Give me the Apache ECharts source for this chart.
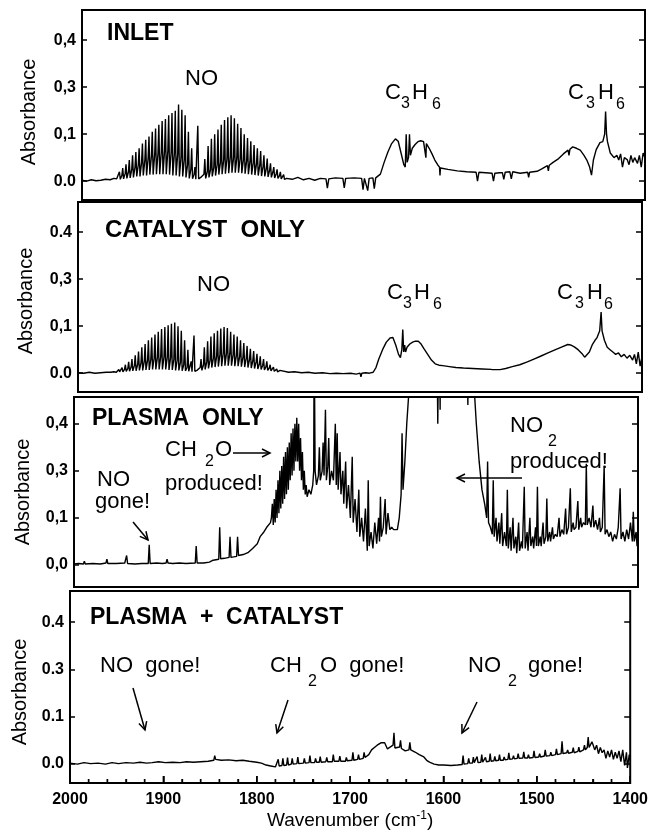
<!DOCTYPE html>
<html><head><meta charset="utf-8">
<script src="https://cdn.jsdelivr.net/npm/echarts@6/dist/echarts.min.js"></script>
<style>html,body{margin:0;padding:0;background:#fff}#c{width:651px;height:837px}</style>
</head><body><div id="c"></div><script>
// ---------------- DATA (wavenumber cm^-1, absorbance in tick-position units) ----------------
const panelTitles = ['INLET', 'CATALYST  ONLY', 'PLASMA  ONLY', 'PLASMA  +  CATALYST'];
const yTickPositions = [0, 0.1, 0.2, 0.3];
const p1YLabels = ['0.0', '0,1', '0,3', '0,4'];
const p2YLabels = ['0.0', '0,1', '0,3', '0.4'];
const p3YLabels = ['0,0', '0,1', '0,3', '0,4'];
const p4YLabels = ['0.0', '0.1', '0.3', '0.4'];

const inletSpectrum = [
[2000,0.002],[1995,0.0],[1990,0.003],[1985,0.001],[1980,0.002],[1975,0.004],[1970,0.003],[1966,0.006],[1963,0.005],
[1961,0.008],[1960.1,0.02],[1959.2,0.004],[1957.5,0.012],[1956.6,0.028],[1955.7,0.005],
[1954,0.016],[1953.1,0.036],[1952.2,0.006],[1950.5,0.02],[1949.6,0.045],[1948.7,0.007],
[1947,0.025],[1946.1,0.055],[1945.2,0.008],[1943.5,0.03],[1942.6,0.062],[1941.7,0.01],
[1940,0.035],[1939.1,0.07],[1938.2,0.01],[1936.5,0.04],[1935.6,0.08],[1934.7,0.012],
[1933,0.045],[1932.1,0.088],[1931.2,0.012],[1929.5,0.05],[1928.6,0.095],[1927.7,0.014],
[1926,0.055],[1925.1,0.105],[1924.2,0.014],[1922.5,0.058],[1921.6,0.112],[1920.7,0.015],
[1919,0.06],[1918.1,0.12],[1917.2,0.015],[1915.5,0.062],[1914.6,0.128],[1913.7,0.015],
[1912,0.065],[1911.1,0.132],[1910.2,0.015],[1908.5,0.065],[1907.6,0.14],[1906.7,0.014],
[1905,0.062],[1904.1,0.145],[1903.2,0.012],[1901.5,0.06],[1900.6,0.15],[1899.7,0.012],
[1898,0.058],[1897.1,0.163],[1896.2,0.01],[1894.5,0.05],[1893.6,0.152],[1892.7,0.01],
[1891,0.045],[1890.1,0.14],[1889.2,0.008],[1887.5,0.035],[1886.6,0.105],[1885.7,0.006],
[1884,0.025],[1883.1,0.07],[1882.2,0.005],[1880.5,0.015],[1879.6,0.03],[1878.7,0.004],
[1877.5,0.006],[1876.6,0.118],[1875.7,0.005],[1873.5,0.008],
[1870,0.015],[1869.1,0.047],[1868.2,0.006],[1866.5,0.02],[1865.6,0.075],[1864.7,0.008],
[1863,0.025],[1862.1,0.09],[1861.2,0.01],[1859.5,0.03],[1858.6,0.1],[1857.7,0.012],
[1856,0.035],[1855.1,0.11],[1854.2,0.014],[1852.5,0.04],[1851.6,0.12],[1850.7,0.015],
[1849,0.045],[1848.1,0.13],[1847.2,0.016],[1845.5,0.048],[1844.6,0.136],[1843.7,0.017],
[1842,0.05],[1841.1,0.14],[1840.2,0.018],[1838.5,0.05],[1837.6,0.134],[1836.7,0.018],
[1835,0.05],[1834.1,0.122],[1833.2,0.018],[1831.5,0.048],[1830.6,0.113],[1829.7,0.017],
[1828,0.046],[1827.1,0.1],[1826.2,0.016],[1824.5,0.044],[1823.6,0.092],[1822.7,0.015],
[1821,0.042],[1820.1,0.085],[1819.2,0.014],[1817.5,0.04],[1816.6,0.077],[1815.7,0.013],
[1814,0.038],[1813.1,0.07],[1812.2,0.012],[1810.5,0.035],[1809.6,0.064],[1808.7,0.011],
[1807,0.032],[1806.1,0.055],[1805.2,0.01],[1803.5,0.028],[1802.6,0.048],[1801.7,0.009],
[1800,0.024],[1799.1,0.038],[1798.2,0.008],[1796.5,0.02],[1795.6,0.03],[1794.7,0.007],
[1793,0.016],[1792.1,0.025],[1791.2,0.006],[1789.5,0.012],[1788.6,0.02],[1787.7,0.005],
[1786,0.008],[1785.1,0.014],[1784.2,0.004],
[1782,0.006],[1776,0.004],[1770,0.008],[1764,0.003],[1758,0.006],[1752,0.002],[1746,0.006],
[1740,0.005],[1738.5,-0.015],[1737,0.005],[1730,0.007],[1722,0.006],[1720.5,-0.014],[1719,0.006],
[1710,0.007],[1702,0.006],[1700.5,-0.018],[1699,0.006],[1697,0.006],[1695.5,-0.02],[1694,0.006],
[1690,0.007],[1688.5,-0.016],[1687,0.007],[1685,0.008],
[1682,0.015],[1678,0.04],[1674,0.062],[1670,0.08],[1666,0.09],[1663,0.085],[1660,0.06],[1657,0.035],
[1655.5,0.03],[1654.5,0.1],[1653.5,0.04],[1652,0.05],[1651,0.1],[1650,0.055],[1648,0.07],[1645,0.078],
[1642,0.084],[1639,0.086],[1636,0.084],[1634,0.08],[1633.5,0.05],[1633,0.08],[1630,0.07],[1627,0.058],
[1624,0.045],[1621,0.035],[1619,0.03],[1618.5,0.012],[1618,0.028],
[1610,0.025],[1600,0.022],[1590,0.02],[1580,0.019],[1578.5,0.0],[1577,0.019],[1570,0.018],[1563,0.017],
[1561.5,0.0],[1560,0.017],[1555,0.018],[1552,0.018],[1550.5,0.004],[1549,0.019],[1544,0.02],
[1542.5,0.005],[1541,0.02],[1533,0.017],[1525,0.019],[1524,0.008],[1523,0.019],[1515,0.021],
[1510,0.026],[1504,0.033],[1503,0.022],[1502,0.034],[1498,0.04],[1492,0.048],[1487,0.058],
[1482,0.066],[1481,0.055],[1480,0.068],[1477,0.073],[1473,0.07],[1469,0.066],[1465,0.055],
[1462,0.045],[1459,0.03],[1457,0.013],[1455,0.045],[1452,0.067],[1448,0.082],[1445,0.084],
[1443,0.1],[1442,0.148],[1441,0.1],[1440,0.084],[1437,0.06],[1435,0.064],[1433,0.05],[1430,0.055],
[1428,0.045],[1426,0.058],[1424,0.03],[1422,0.05],[1419,0.046],[1417,0.035],[1415,0.055],
[1413,0.04],[1411,0.05],[1408,0.038],[1406,0.055],[1404,0.03],[1402,0.06],[1400,0.05]
];

const catalystSpectrum = [
[2000,0.001],[1994,0.0],[1988,0.002],[1982,0.0],[1976,0.001],[1970,0.002],[1965,0.002],[1962,0.003],
[1961,0.003],[1960.1,0.005],[1959.2,0.002],[1957.5,0.004],[1956.6,0.008],[1955.7,0.003],
[1954,0.006],[1953.1,0.012],[1952.2,0.003],[1950.5,0.008],[1949.6,0.018],[1948.7,0.004],
[1947,0.01],[1946.1,0.024],[1945.2,0.004],[1943.5,0.013],[1942.6,0.03],[1941.7,0.005],
[1940,0.016],[1939.1,0.038],[1938.2,0.005],[1936.5,0.019],[1935.6,0.046],[1934.7,0.006],
[1933,0.022],[1932.1,0.055],[1931.2,0.006],[1929.5,0.025],[1928.6,0.062],[1927.7,0.007],
[1926,0.028],[1925.1,0.07],[1924.2,0.007],[1922.5,0.03],[1921.6,0.076],[1920.7,0.008],
[1919,0.032],[1918.1,0.082],[1917.2,0.008],[1915.5,0.034],[1914.6,0.088],[1913.7,0.008],
[1912,0.035],[1911.1,0.094],[1910.2,0.008],[1908.5,0.035],[1907.6,0.098],[1906.7,0.008],
[1905,0.034],[1904.1,0.102],[1903.2,0.007],[1901.5,0.033],[1900.6,0.105],[1899.7,0.007],
[1898,0.03],[1897.1,0.108],[1896.2,0.006],[1894.5,0.027],[1893.6,0.1],[1892.7,0.006],
[1891,0.023],[1890.1,0.09],[1889.2,0.005],[1887.5,0.018],[1886.6,0.07],[1885.7,0.005],
[1884,0.012],[1883.1,0.05],[1882.2,0.004],[1880.5,0.008],[1879.6,0.025],[1878.7,0.003],
[1877.5,0.004],[1876.6,0.08],[1875.7,0.004],[1873.5,0.006],
[1870,0.012],[1869.1,0.03],[1868.2,0.006],[1866.5,0.018],[1865.6,0.055],[1864.7,0.008],
[1863,0.024],[1862.1,0.068],[1861.2,0.01],[1859.5,0.028],[1858.6,0.078],[1857.7,0.012],
[1856,0.032],[1855.1,0.085],[1854.2,0.013],[1852.5,0.036],[1851.6,0.09],[1850.7,0.014],
[1849,0.04],[1848.1,0.095],[1847.2,0.015],[1845.5,0.042],[1844.6,0.098],[1843.7,0.016],
[1842,0.043],[1841.1,0.096],[1840.2,0.016],[1838.5,0.042],[1837.6,0.088],[1836.7,0.016],
[1835,0.04],[1834.1,0.082],[1833.2,0.015],[1831.5,0.038],[1830.6,0.078],[1829.7,0.015],
[1828,0.036],[1827.1,0.07],[1826.2,0.014],[1824.5,0.034],[1823.6,0.064],[1822.7,0.013],
[1821,0.032],[1820.1,0.058],[1819.2,0.012],[1817.5,0.03],[1816.6,0.052],[1815.7,0.011],
[1814,0.027],[1813.1,0.047],[1812.2,0.01],[1810.5,0.024],[1809.6,0.041],[1808.7,0.009],
[1807,0.02],[1806.1,0.036],[1805.2,0.008],[1803.5,0.017],[1802.6,0.03],[1801.7,0.007],
[1800,0.014],[1799.1,0.025],[1798.2,0.006],[1796.5,0.011],[1795.6,0.018],[1794.7,0.005],
[1793,0.008],[1792.1,0.013],[1791.2,0.004],[1789.5,0.006],[1788.6,0.009],[1787.7,0.003],
[1786,0.004],[1785.1,0.006],[1784.2,0.002],
[1783,0.004],[1776,0.002],[1770,0.003],[1762,0.001],[1755,0.002],[1748,0.0],[1740,0.001],
[1732,-0.001],[1725,0.0],[1718,-0.001],[1710,0.0],[1704,-0.002],[1700,0.0],[1699,-0.008],
[1698,0.0],[1694,0.001],[1690,0.0],
[1688,0.0],[1686,0.002],[1683,0.012],[1680,0.03],[1676,0.05],[1672,0.066],[1668,0.075],[1665,0.076],
[1662,0.06],[1659,0.04],[1657,0.033],[1655.5,0.05],[1654.5,0.093],[1653.5,0.045],[1652.5,0.06],
[1651.5,0.045],[1650,0.055],[1647,0.062],[1644,0.066],[1641,0.068],[1638,0.068],[1635,0.062],
[1632,0.052],[1628,0.04],[1624,0.028],[1620,0.02],[1616,0.017],[1612,0.016],[1605,0.014],
[1598,0.012],[1590,0.011],[1580,0.01],[1570,0.009],[1560,0.008],[1551,0.0075],[1545,0.01],
[1538,0.014],[1530,0.018],[1522,0.024],[1515,0.03],[1508,0.036],[1500,0.043],[1492,0.05],
[1485,0.056],[1479,0.061],[1476,0.06],[1472,0.056],[1468,0.05],[1464,0.042],[1461,0.034],
[1459,0.03],[1456,0.045],[1453,0.06],[1450,0.07],[1448,0.075],[1445,0.09],[1443.5,0.13],
[1442.5,0.09],[1440,0.07],[1437,0.055],[1434,0.05],[1431,0.045],[1428,0.04],[1425,0.043],
[1422,0.035],[1419,0.04],[1416,0.032],[1413,0.038],[1410,0.028],[1408,0.04],[1406,0.02],
[1404,0.045],[1402,0.015],[1400,0.035]
];

const plasmaSpectrum = [
[2000,0.002],[1995,0.003],[1990,0.002],[1989,0.008],[1988,0.002],[1980,0.003],[1972,0.002],
[1966,0.004],[1965,0.012],[1964,0.003],[1955,0.003],[1946,0.004],[1944,0.02],[1943,0.003],
[1935,0.002],[1928,0.003],[1921,0.003],[1920,0.043],[1919,0.003],[1912,0.004],[1906,0.003],
[1902,0.004],[1901,0.012],[1900,0.004],[1895,0.003],[1888,0.004],[1881,0.003],[1871,0.004],
[1870,0.04],[1869,0.004],[1862,0.004],[1856,0.006],[1852,0.01],[1846,0.012],[1845,0.08],
[1844,0.013],[1840,0.014],[1835,0.016],[1834,0.06],[1833,0.016],[1830,0.017],[1827,0.018],
[1826,0.06],[1825,0.02],[1820,0.022],[1815,0.026],[1810,0.035],[1805,0.045],[1802,0.06],
[1798,0.07],[1795,0.08],[1791,0.09],
[1790,0.1],[1789,0.13],[1788,0.085],[1787,0.14],[1786,0.09],[1785,0.16],[1784,0.1],[1783,0.18],
[1782,0.11],[1781,0.2],[1780,0.12],[1779,0.21],[1778,0.13],[1777,0.23],[1776,0.14],[1775,0.24],
[1774,0.15],[1773,0.25],[1772,0.16],[1771,0.26],[1770,0.18],[1769,0.28],[1768,0.19],[1767,0.29],
[1766,0.2],[1765,0.3],[1764,0.22],[1763,0.313],[1762,0.22],[1761,0.3],[1760,0.2],[1759,0.27],
[1758,0.18],[1757,0.24],[1756,0.16],[1755,0.2],[1754,0.15],[1753,0.17],[1752,0.145],
[1750,0.16],[1748,0.15],[1746,0.17],[1745,0.2],[1744.5,0.5],[1743.5,0.2],[1742,0.17],[1740,0.19],
[1739,0.25],[1738,0.18],[1736,0.2],[1735,0.26],[1734,0.19],[1732.5,0.33],[1731.5,0.18],[1730,0.21],
[1729,0.27],[1728,0.17],[1726,0.2],[1724,0.18],[1722,0.3],[1721,0.17],[1720,0.28],[1719,0.16],
[1717,0.24],[1716,0.15],[1714,0.2],[1713,0.13],[1711,0.22],[1710,0.12],[1708,0.17],[1706,0.1],
[1704,0.23],[1703,0.09],[1701,0.14],[1699,0.07],[1697,0.16],[1696,0.06],[1694,0.1],[1692,0.05],
[1690,0.12],[1688,0.03],[1687,0.18],[1686,0.04],[1684,0.07],[1682,0.035],[1680,0.09],[1678,0.045],
[1676,0.1],[1675,0.05],[1674,0.145],[1673,0.06],[1671,0.08],[1669,0.14],[1668,0.065],[1666,0.11],
[1664,0.075],[1662,0.08],[1660,0.075],[1658,0.078],[1656,0.075],[1654,0.1],[1652,0.15],[1651,0.28],
[1650,0.16],[1648,0.22],[1646,0.3],[1644,0.36],[1643,0.5],
[1640,0.5],[1620,0.5],[1614,0.5],[1613,0.3],[1612,0.5],[1611,0.45],[1610.5,0.33],[1610,0.5],
[1590,0.5],[1582,0.5],[1581,0.34],[1580,0.5],[1577,0.5],[1575,0.4],[1572,0.3],[1569,0.22],
[1566,0.16],[1563,0.128],[1561,0.1],[1560,0.22],[1559,0.09],[1557,0.08],[1555,0.065],
[1554,0.18],[1553,0.06],[1551,0.1],[1550,0.05],[1548,0.09],[1547,0.045],[1545,0.11],[1544,0.04],
[1542,0.07],[1540,0.04],[1539,0.16],[1538,0.035],[1536,0.08],[1535,0.03],[1533,0.1],[1532,0.035],
[1530,0.06],[1529,0.025],[1527,0.09],[1526,0.03],[1524,0.05],[1523,0.035],[1521,0.166],[1520,0.035],
[1518,0.07],[1517,0.03],[1515,0.1],[1514,0.04],[1512,0.06],[1511,0.035],[1509,0.08],[1508,0.04],
[1507,0.166],[1506,0.04],[1504,0.06],[1503,0.04],[1501,0.09],[1500,0.045],[1498,0.06],[1497,0.141],
[1496,0.05],[1494,0.07],[1493,0.05],[1491,0.08],[1490,0.055],[1488,0.065],[1486,0.06],[1484,0.1],
[1483,0.06],[1481,0.075],[1479,0.065],[1477,0.12],[1476,0.065],[1474,0.08],[1472,0.163],[1471,0.07],
[1469,0.09],[1468,0.075],[1466,0.08],[1464,0.136],[1463,0.075],[1461,0.1],[1460,0.08],[1458,0.09],
[1456,0.085],[1455,0.215],[1454,0.085],[1452,0.1],[1450,0.08],[1448,0.126],[1447,0.08],[1445,0.095],
[1443,0.075],[1441,0.1],[1440,0.07],[1438,0.08],[1436,0.211],[1435,0.065],[1433,0.075],[1431,0.06],
[1429,0.07],[1427,0.05],[1425,0.065],[1423,0.055],[1421,0.08],[1419,0.163],[1418,0.055],[1416,0.07],
[1414,0.05],[1412,0.075],[1410,0.055],[1408,0.09],[1406,0.05],[1405,0.113],[1404,0.05],[1402,0.07],
[1401,0.04],[1400,0.06]
];

const plasmaCatalystSpectrum = [
[2000,0.002],[1992,0.0],[1985,0.003],[1978,0.001],[1970,0.002],[1962,0.0],[1955,0.003],[1948,0.001],
[1940,0.003],[1932,0.002],[1925,0.004],[1918,0.002],[1912,0.003],[1905,0.005],[1898,0.003],
[1890,0.004],[1882,0.003],[1875,0.005],[1868,0.004],[1860,0.005],[1852,0.006],[1846,0.008],
[1845,0.018],[1844,0.01],[1838,0.008],[1830,0.009],[1822,0.007],[1815,0.008],[1808,0.006],
[1800,0.004],[1795,0.002],[1790,-0.002],[1785,-0.004],[1780,-0.006],[1778,-0.005],[1777,0.01],
[1776,-0.004],[1773,-0.003],[1772,0.012],[1771,-0.003],[1768,-0.002],[1767,0.014],[1766,-0.002],
[1763,0.0],[1762,0.012],[1761,0.0],[1757,0.001],[1756,0.015],[1755,0.001],[1750,0.002],[1749,0.012],
[1748,0.002],[1744,0.003],[1743,0.018],[1742,0.003],[1738,0.003],[1737,0.012],[1736,0.004],
[1733,0.004],[1732,0.016],[1731,0.004],[1726,0.005],[1725,0.014],[1724,0.005],[1719,0.005],
[1718,0.02],[1717,0.006],[1712,0.006],[1711,0.017],[1710,0.006],[1705,0.006],[1704,0.014],
[1703,0.007],[1698,0.008],[1697,0.025],[1696,0.008],[1692,0.01],[1691,0.02],[1690,0.01],
[1686,0.012],[1685,0.025],[1684,0.014],[1680,0.02],[1677,0.03],[1674,0.035],[1671,0.04],
[1669,0.039],[1667,0.045],[1665,0.042],[1663,0.045],[1660,0.032],[1658,0.028],[1654,0.04],
[1653,0.066],[1652,0.034],[1650,0.033],[1647,0.036],[1646,0.05],[1645,0.033],[1643,0.03],
[1641,0.028],[1637,0.03],[1636,0.046],[1635,0.03],[1630,0.025],[1626,0.02],[1621,0.015],
[1618,0.008],[1615,0.004],[1610,0.0],[1605,-0.002],[1600,-0.002],[1592,-0.003],[1585,-0.002],
[1580,-0.001],[1579,0.018],[1578,0.0],[1574,0.001],[1573,0.012],[1572,0.002],[1569,0.002],
[1568,0.015],[1567,0.003],[1565,0.003],[1564,0.016],[1563,0.003],[1560,0.004],[1559,0.02],
[1558,0.004],[1556,0.005],[1555,0.014],[1554,0.005],[1551,0.006],[1550,0.022],[1549,0.006],
[1546,0.007],[1545,0.016],[1544,0.007],[1541,0.008],[1540,0.02],[1539,0.008],[1536,0.008],
[1535,0.015],[1534,0.009],[1531,0.01],[1530,0.024],[1529,0.01],[1526,0.011],[1525,0.018],
[1524,0.011],[1521,0.012],[1520,0.022],[1519,0.012],[1515,0.013],[1514,0.026],[1513,0.013],
[1510,0.013],[1509,0.02],[1508,0.013],[1504,0.014],[1503,0.028],[1502,0.014],[1498,0.015],
[1497,0.022],[1496,0.015],[1492,0.017],[1491,0.03],[1490,0.017],[1486,0.018],[1485,0.025],
[1484,0.018],[1480,0.02],[1479,0.032],[1478,0.02],[1474,0.022],[1473,0.048],[1472,0.022],
[1468,0.024],[1467,0.03],[1466,0.023],[1462,0.025],[1461,0.035],[1460,0.024],[1456,0.027],
[1455,0.036],[1454,0.026],[1450,0.03],[1449,0.04],[1448,0.03],[1446,0.035],[1445,0.057],
[1444,0.035],[1441,0.047],[1440,0.042],[1438,0.03],[1436,0.04],[1434,0.022],[1432,0.035],
[1430,0.024],[1428,0.03],[1426,0.012],[1424,0.028],[1422,0.015],[1420,0.03],[1418,0.01],
[1416,0.025],[1414,0.012],[1412,0.028],[1410,0.005],[1408,0.03],[1406,-0.003],[1404,0.025],
[1403,-0.008],[1401,0.02],[1400,0.008]
];

// ---------------- LAYOUT ----------------
const spectra = [inletSpectrum, catalystSpectrum, plasmaSpectrum, plasmaCatalystSpectrum];
const yLabelSets = [p1YLabels, p2YLabels, p3YLabels, p4YLabels];
const panels = [
  {left: 82, right: 6,  top: 10,  height: 190, min: -0.04,  max: 0.364, nameGap: 43, namePad: 14},
  {left: 78, right: 9,  top: 202, height: 190, min: -0.04,  max: 0.364, nameGap: 42, namePad: 8},
  {left: 74, right: 13, top: 397, height: 190, min: -0.047, max: 0.357, nameGap: 41, namePad: 0},
  {left: 70, right: 16, top: 591, height: 192, min: -0.04,  max: 0.366, nameGap: 37, namePad: 10}
];
const X_MIN = 1400, X_MAX = 2000, X_MAJOR = 100, X_MINOR = 20;
const FONT = '"Liberation Sans", Arial, Helvetica, sans-serif';

const grid = [], xAxis = [], yAxis = [], series = [];
panels.forEach((p, i) => {
  grid.push({left: p.left, right: p.right, top: p.top, height: p.height,
    show: true, borderColor: '#000', borderWidth: 2});
  const last = i === panels.length - 1;
  xAxis.push({
    type: 'value', gridIndex: i, min: X_MIN, max: X_MAX, interval: X_MAJOR, inverse: true,
    axisLine: {show: false, onZero: false}, splitLine: {show: false},
    axisTick: {show: last, inside: true, length: 7, lineStyle: {color: '#000', width: 1.5}},
    minorTick: {show: last, splitNumber: 5, length: 4, lineStyle: {color: '#000', width: 1.3}},
    axisLabel: {show: last, color: '#000', fontFamily: FONT, fontWeight: 'bold', fontSize: 16, margin: 9,
      formatter: v => String(v)},
    name: last ? '{a|Wavenumber (cm}{s|-1}{a|)}' : '',
    nameLocation: 'middle', nameGap: 27,
    nameTextStyle: {rich: {
      a: {fontFamily: FONT, fontSize: 19, color: '#000', lineHeight: 22},
      s: {fontFamily: FONT, fontSize: 12, color: '#000', lineHeight: 22, verticalAlign: 'top'}
    }}
  });
  const labels = yLabelSets[i];
  yAxis.push({
    type: 'value', gridIndex: i, min: p.min, max: p.max, position: 'left',
    axisLine: {show: false, onZero: false}, splitLine: {show: false},
    axisTick: {show: true, inside: true, length: 5, customValues: yTickPositions, lineStyle: {color: '#000', width: 1.5}},
    axisLabel: {show: true, customValues: yTickPositions, margin: 6, color: '#000', fontFamily: FONT,
      fontWeight: 'bold', fontSize: 16,
      formatter: v => labels[yTickPositions.findIndex(t => Math.abs(t - v) < 1e-6)] || ''},
    name: 'Absorbance', nameLocation: 'middle', nameGap: p.nameGap, nameRotate: 90,
    nameTextStyle: {fontFamily: FONT, fontSize: 20, color: '#000', padding: [0, p.namePad, 0, 0]}
  });
  yAxis.push({
    type: 'value', gridIndex: i, min: p.min, max: p.max, position: 'right',
    axisLine: {show: false, onZero: false}, splitLine: {show: false}, axisLabel: {show: false},
    axisTick: {show: true, inside: true, length: 6, customValues: yTickPositions, lineStyle: {color: '#000', width: 1.5}}
  });
  series.push({
    type: 'line', xAxisIndex: i, yAxisIndex: i * 2, data: spectra[i],
    showSymbol: false, symbol: 'none', clip: true, silent: true,
    lineStyle: {color: '#000', width: 1.4}
  });
});

// Bottom-frame wavenumber ticks of the last panel, drawn through that panel's own scales
const lastIdx = panels.length - 1;
const xTickValues = [];
for (let v = X_MIN + X_MINOR; v < X_MAX; v += X_MINOR) xTickValues.push([v, panels[lastIdx].min]);
series.push({
  type: 'custom', xAxisIndex: lastIdx, yAxisIndex: lastIdx * 2, silent: true, clip: false, z: 10,
  data: xTickValues,
  renderItem: function (params, api) {
    const v = api.value(0);
    const pt = api.coord([v, api.value(1)]);
    const len = (Math.round(v) % X_MAJOR === 0) ? 7 : 4;
    return {type: 'line', shape: {x1: pt[0], y1: pt[1], x2: pt[0], y2: pt[1] - len},
      style: {stroke: '#000', lineWidth: 1.5}};
  }
});

// ---------------- ANNOTATIONS ----------------
function T(x, y, s, size, bold) {
  return {type: 'text', x: x, y: y, silent: true, style: {text: s, fill: '#000',
    fontFamily: FONT, fontSize: size, fontWeight: bold ? 'bold' : 'normal',
    align: 'left', verticalAlign: 'middle'}};
}
function arrow(x1, y1, x2, y2) {
  const dx = x2 - x1, dy = y2 - y1, L = Math.hypot(dx, dy), ux = dx / L, uy = dy / L;
  const bx = x2 - 8 * ux, by = y2 - 8 * uy, px = -uy * 4, py = ux * 4;
  return [
    {type: 'line', silent: true, shape: {x1, y1, x2, y2}, style: {stroke: '#000', lineWidth: 1.5}},
    {type: 'polyline', silent: true, shape: {points: [[bx + px, by + py], [x2, y2], [bx - px, by - py]]},
      style: {stroke: '#000', lineWidth: 1.5, fill: null}}
  ];
}
const graphics = [
  T(107, 34, panelTitles[0], 23, true),
  T(185, 79, 'NO', 22),
  T(385, 93, 'C', 22), T(401, 104, '3', 16), T(412, 93, 'H', 22), T(432, 105, '6', 16),
  T(568, 93, 'C', 22), T(586, 104, '3', 16), T(598, 93, 'H', 22), T(616, 105, '6', 16),

  T(105, 230, panelTitles[1], 24, true),
  T(197, 285, 'NO', 22),
  T(387, 293, 'C', 22), T(403, 304, '3', 16), T(414, 293, 'H', 22), T(433, 305, '6', 16),
  T(557, 293, 'C', 22), T(575, 304, '3', 16), T(587, 293, 'H', 22), T(604, 305, '6', 16),

  T(92, 419, panelTitles[2], 23, true),
  T(165, 450, 'CH', 22), T(205, 462, '2', 16), T(215, 450, 'O', 22),
  T(165, 484, 'produced!', 22),
  T(97, 480, 'NO', 22), T(95, 502, 'gone!', 22),
  T(510, 426, 'NO', 22), T(548, 442, '2', 16), T(510, 462, 'produced!', 22),

  T(90, 618, panelTitles[3], 23, true),
  T(100, 666, 'NO  gone!', 22),
  T(270, 666, 'CH', 22), T(308, 682, '2', 16), T(320, 666, 'O  gone!', 22),
  T(468, 666, 'NO', 22), T(508, 682, '2', 16), T(528, 666, 'gone!', 22),
  ...arrow(233, 453, 270, 453),
  ...arrow(133, 522, 148, 540),
  ...arrow(522, 478, 457, 478),
  ...arrow(133, 688, 145, 730),
  ...arrow(288, 700, 277, 733),
  ...arrow(477, 702, 462, 733)
];

const chart = echarts.init(document.getElementById('c'), null, {renderer: 'canvas'});
chart.setOption({
  animation: false, backgroundColor: '#fff',
  grid, xAxis, yAxis, series, graphic: graphics
});
</script></body></html>
